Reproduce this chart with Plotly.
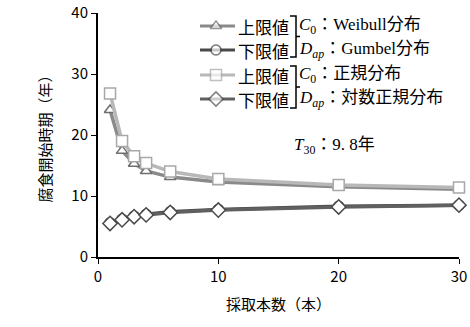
import plotly.graph_objects as go

# Number of cores sampled
samples = [1, 2, 3, 4, 6, 10, 20, 30]

# Corrosion initiation time (years)
upper_weibull = [24.1, 17.4, 15.3, 14.1, 13.1, 12.3, 11.5, 11.1]
lower_gumbel = [5.6, 6.2, 6.7, 7.0, 7.4, 7.8, 8.3, 8.5]
upper_normal = [26.8, 19.0, 16.5, 15.4, 14.0, 12.8, 11.8, 11.4]
lower_lognormal = [5.5, 6.1, 6.6, 6.9, 7.3, 7.7, 8.2, 8.5]

row_labels = ["上限値", "下限値", "上限値", "下限値"]
dist_labels = [
    "<i>C</i><sub>0</sub>：<span style='font-family:Liberation Serif'>Weibull</span>分布",
    "<i>D</i><sub><i>ap</i></sub>：<span style='font-family:Liberation Serif'>Gumbel</span>分布",
    "<i>C</i><sub>0</sub>：正規分布",
    "<i>D</i><sub><i>ap</i></sub>：対数正規分布",
]

JP = "Noto Sans CJK JP"
SERIF = "Liberation Serif"

series = [
    (upper_weibull, "#8a8a8a", "#6e6e6e", "triangle-up", 10),
    (lower_gumbel, "#4a4a4a", "#3c3c3c", "circle", 10),
    (upper_normal, "#b8b8b8", "#a8a8a8", "square", 11),
    (lower_lognormal, "#606060", "#4a4a4a", "diamond", 11),
]

fig = go.Figure()
for vals, lc, mc, sym, sz in series:
    fig.add_trace(go.Scatter(
        x=samples, y=vals, mode="lines+markers",
        line=dict(color=lc, width=3.5),
        marker=dict(symbol=sym, size=sz, color="white",
                    line=dict(color=mc, width=1.5)),
        showlegend=False, cliponaxis=False,
    ))

# Legend drawn on an overlay axis measured in screen pixels
L, R, T, B = 98, 459, 13, 257
row_y = [26, 50, 75, 99]
for (vals, lc, mc, sym, sz), yy in zip(series, row_y):
    fig.add_trace(go.Scatter(
        x=[200, 216, 235], y=[yy, yy, yy], xaxis="x2", yaxis="y2",
        mode="lines+markers",
        line=dict(color=lc, width=3),
        marker=dict(symbol=sym, size=[0, sz, 0], color="white",
                    line=dict(color=mc, width=1.5)),
        showlegend=False, cliponaxis=False, hoverinfo="skip",
    ))

for lab, dl, yy in zip(row_labels, dist_labels, row_y):
    fig.add_annotation(x=236, y=yy, xref="x2", yref="y2", text=lab,
                       showarrow=False, xanchor="left", yanchor="middle",
                       font=dict(family=JP, size=17, color="black"))
    fig.add_annotation(x=297, y=yy, xref="x2", yref="y2", text=dl,
                       showarrow=False, xanchor="left", yanchor="middle",
                       font=dict(family=f"{SERIF}, {JP}", size=17, color="black"))

for top, bot in [(16, 57), (66, 108)]:
    mid = (top + bot) / 2
    fig.add_shape(type="path", xref="x2", yref="y2",
                  path=f"M 290 {top} L 296 {top} L 296 {bot} L 290 {bot} M 296 {mid} L 300 {mid}",
                  line=dict(color="black", width=1.5))

fig.add_annotation(x=292, y=146, xref="x2", yref="y2",
                   text="<i>T</i><sub>30</sub>：9. 8年", showarrow=False,
                   xanchor="left", yanchor="middle",
                   font=dict(family=f"{SERIF}, {JP}", size=17, color="black"))

fig.update_layout(
    width=470, height=327,
    margin=dict(l=L, r=470 - R, t=T, b=327 - B, autoexpand=False),
    paper_bgcolor="white", plot_bgcolor="white",
    font=dict(family=JP, color="black"),
    xaxis=dict(range=[0, 30], tickvals=[0, 10, 20, 30], showgrid=False,
               zeroline=False, showline=True, linecolor="black", linewidth=2,
               ticks="outside", ticklen=5, tickwidth=1, tickcolor="black",
               tickfont=dict(family=JP, size=15), automargin=False,
               title=dict(text="採取本数（本）", font=dict(family=JP, size=15),
                          standoff=14)),
    yaxis=dict(range=[0, 40], tickvals=[0, 10, 20, 30, 40], showgrid=False,
               zeroline=False, showline=True, linecolor="black", linewidth=2,
               ticks="outside", ticklen=5, tickwidth=1, tickcolor="black",
               tickfont=dict(family=JP, size=15), automargin=False,
               title=dict(text="腐食開始時期（年）", font=dict(family=JP, size=15),
                          standoff=16)),
    xaxis2=dict(range=[L, R], overlaying="x", visible=False, fixedrange=True,
                automargin=False),
    yaxis2=dict(range=[B, T], overlaying="y", visible=False, fixedrange=True,
                automargin=False),
)

fig.write_html("out.html")
